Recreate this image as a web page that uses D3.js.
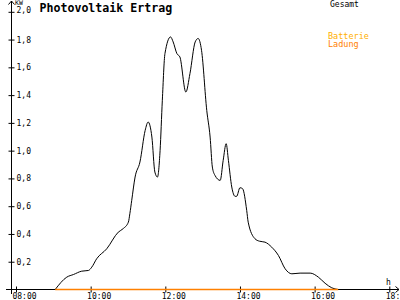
<!doctype html>
<html>
  <head>
    <style>
      body { margin: 0; background: #fff; }
      text { font-family: "DejaVu Sans Mono", monospace; }
    </style>
  </head>
  <body>
    <svg width="400" height="300" id="chart"></svg>

    <script src="https://cdnjs.cloudflare.com/ajax/libs/d3/7.8.5/d3.min.js"></script>
    <script>
      // time of day in hours, output in kW
      const hours = [9.05, 9.36, 9.54, 9.76, 9.94, 10.03, 10.16, 10.43, 10.74, 10.87, 11.01, 11.05, 11.10,
        11.19, 11.32, 11.46, 11.54, 11.64, 11.72, 11.79, 11.86, 11.92, 11.99, 12.14, 12.21, 12.31, 12.39,
        12.55, 12.66, 12.80, 12.88, 12.97, 13.11, 13.20, 13.26, 13.33, 13.47, 13.55, 13.63, 13.69, 13.78,
        13.87, 13.91, 14.00, 14.07, 14.18, 14.22, 14.40, 14.52, 14.67, 14.85, 15.03, 15.21, 15.39, 15.61,
        15.88, 16.10, 16.28, 16.46, 16.63]
      const kw = [0, 0.089, 0.108, 0.132, 0.137, 0.161, 0.221, 0.293, 0.413, 0.438, 0.485, 0.546, 0.642,
        0.810, 0.918, 1.146, 1.206, 1.098, 0.846, 0.810, 1.002, 1.363, 1.699, 1.819, 1.783, 1.699, 1.675,
        1.422, 1.555, 1.783, 1.808, 1.723, 1.290, 1.098, 0.882, 0.822, 0.786, 0.930, 1.050, 0.930, 0.738,
        0.671, 0.671, 0.733, 0.726, 0.570, 0.485, 0.366, 0.348, 0.341, 0.305, 0.245, 0.149, 0.113, 0.118,
        0.118, 0.089, 0.045, 0.012, 0]
      // battery charging stays at zero for the whole day
      const batteryHours = [9.05, 16.63]
      const batteryKw = [0, 0]

      const xTicks = [8, 10, 12, 14, 16, 18]
      const xTickLabels = ['08:00', '10:00', '12:00', '14:00', '16:00', '18:00']
      const yTicks = [0.2, 0.4, 0.6, 0.8, 1.0, 1.2, 1.4, 1.6, 1.8, 2.0]

      const svg = d3.select('#chart')

      const x = d3.scaleLinear().domain([8, 18]).range([16, 389.3])
      const y = d3.scaleLinear().domain([0, 2]).range([289.5, 11.8])

      const axisColor = '#000'

      // y axis with arrow on top
      svg.append('line')
        .attr('x1', 11.5).attr('x2', 11.5)
        .attr('y1', 1).attr('y2', 294)
        .attr('stroke', axisColor)
      svg.append('path')
        .attr('d', 'M8.5,4.5 L11.5,1 L14.5,4.5')
        .attr('fill', 'none').attr('stroke', axisColor)

      // x axis with arrow on the right
      svg.append('line')
        .attr('x1', 6).attr('x2', 399)
        .attr('y1', 289.5).attr('y2', 289.5)
        .attr('stroke', axisColor)
      svg.append('path')
        .attr('d', 'M395.5,286.5 L399,289.5 L395.5,292.5')
        .attr('fill', 'none').attr('stroke', axisColor)

      const yAxis = svg.append('g').attr('transform', 'translate(11.5,0)')
        .call(d3.axisRight(y).tickValues(yTicks).tickSize(3)
          .tickFormat(d => d3.format('.1f')(d).replace('.', ',')))
      yAxis.select('.domain').remove()
      yAxis.selectAll('.tick line').attr('x1', -3).attr('x2', 3).attr('stroke', axisColor)
      yAxis.selectAll('.tick text')
        .attr('x', 5).attr('dy', '0.32em')
        .attr('font-size', 8).attr('font-family', '"DejaVu Sans Mono", monospace')
        .attr('fill', axisColor)
      // the top label sits right under the unit
      yAxis.selectAll('.tick').filter(d => d === 2).select('text').attr('dy', '0.1em')

      const xAxis = svg.append('g').attr('transform', 'translate(0,289.5)')
        .call(d3.axisBottom(x).tickValues(xTicks).tickSize(3)
          .tickFormat((d, i) => xTickLabels[i]))
      xAxis.select('.domain').remove()
      xAxis.selectAll('.tick line').attr('y1', -3).attr('y2', 3).attr('stroke', axisColor)
      xAxis.selectAll('.tick text')
        .attr('y', 9).attr('dy', 0).attr('dx', 8)
        .attr('font-size', 8).attr('font-family', '"DejaVu Sans Mono", monospace')
        .attr('fill', axisColor)

      svg.append('text').attr('x', 15).attr('y', 5)
        .attr('font-size', 6.5).text('KW')
      svg.append('text').attr('x', 386).attr('y', 285)
        .attr('font-size', 8).text('h')

      svg.append('text').attr('x', 39.5).attr('y', 11.5)
        .attr('font-size', 11.6).attr('font-weight', 'bold')
        .text('Photovoltaik Ertrag')

      svg.append('text').attr('x', 330).attr('y', 6.5)
        .attr('font-size', 8).text('Gesamt')
      svg.append('text').attr('x', 328).attr('y', 38.5)
        .attr('font-size', 8.5).attr('fill', '#ffb000').text('Batterie')
      svg.append('text').attr('x', 328).attr('y', 47)
        .attr('font-size', 8.5).attr('fill', '#ff8000').text('Ladung')

      const line = d3.line()
        .x(d => x(d[0]))
        .y(d => y(d[1]))
        .curve(d3.curveMonotoneX)

      svg.append('path')
        .datum(hours.map((h, i) => [h, kw[i]]))
        .attr('d', line)
        .attr('fill', 'none')
        .attr('stroke', '#000')
        .attr('stroke-width', 1)

      svg.append('path')
        .datum(batteryHours.map((h, i) => [h, batteryKw[i]]))
        .attr('d', line)
        .attr('fill', 'none')
        .attr('stroke', '#ff8000')
        .attr('stroke-width', 1.5)
    </script>
  </body>
</html>
